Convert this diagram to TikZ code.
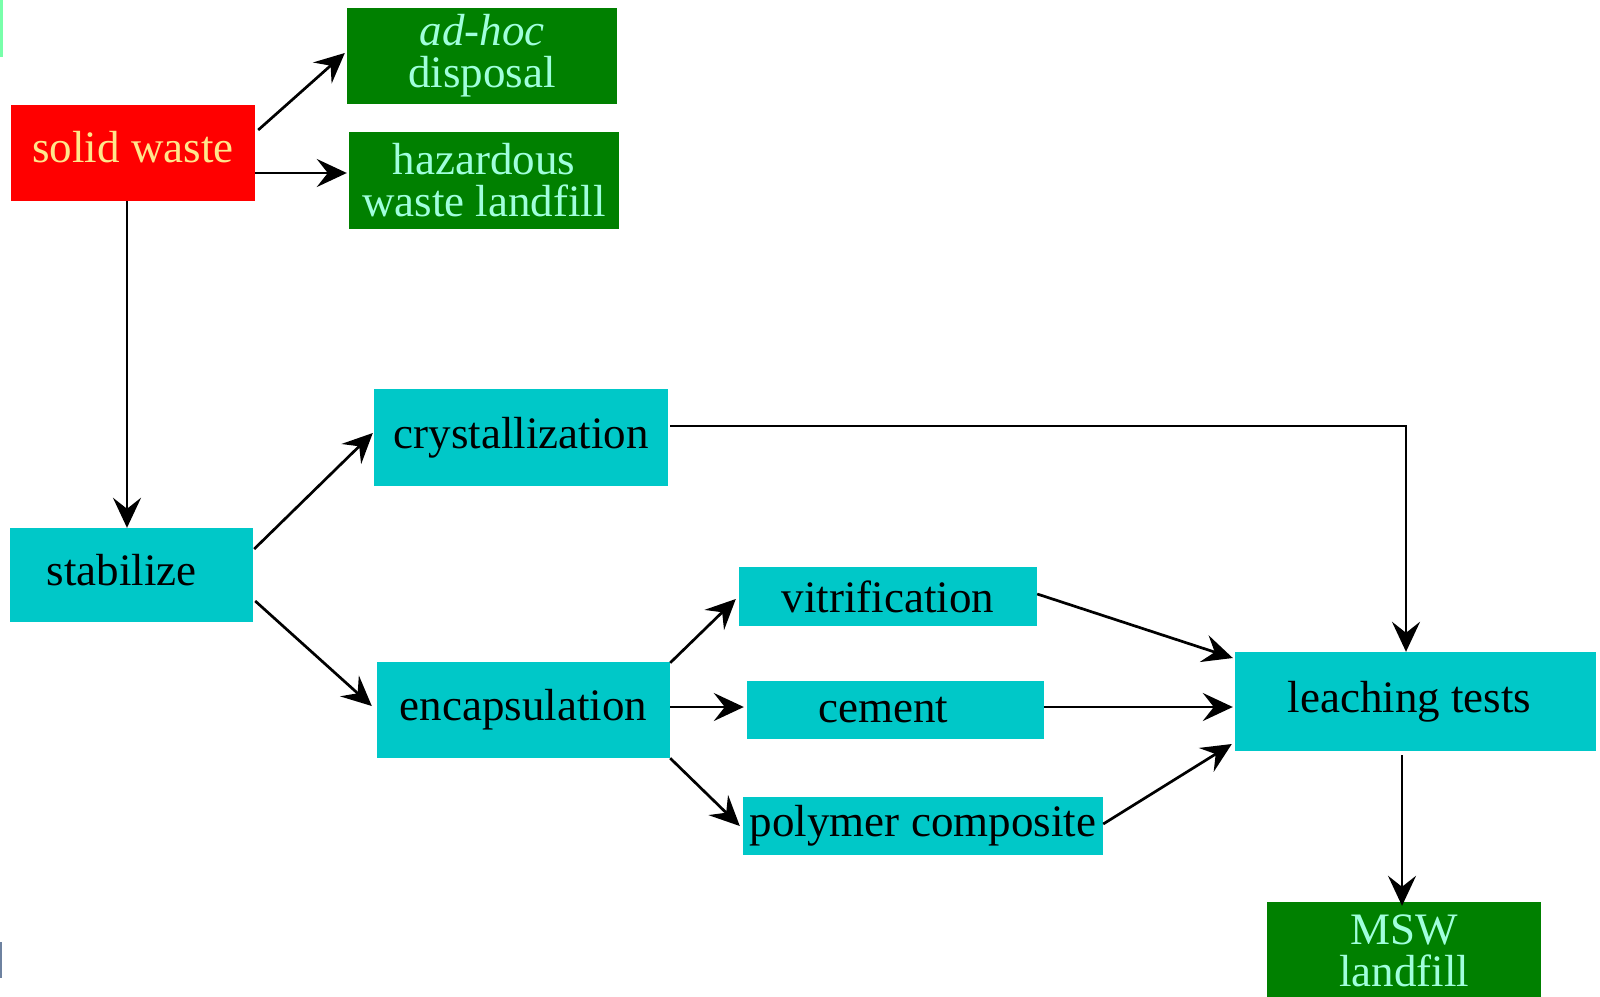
\documentclass[tikz,border=0pt]{standalone}
\usepackage{fontspec}
\setmainfont{Liberation Serif}
\usetikzlibrary{arrows.meta}
\definecolor{boxred}{RGB}{255,0,0}
\definecolor{boxcyan}{RGB}{0,200,200}
\definecolor{boxgreen}{RGB}{0,128,0}
\definecolor{minttext}{RGB}{160,255,220}
\definecolor{yellowtext}{RGB}{255,230,140}
\definecolor{edgegreen}{RGB}{120,255,170}
\definecolor{edgeblue}{RGB}{110,130,160}
\begin{document}
\begin{tikzpicture}[x=1pt,y=-1pt,
  box/.style={rectangle,inner sep=0pt,align=center,font=\fontsize{45}{42}\selectfont},
  cyanbox/.style={box,fill=boxcyan,text=black},
  greenbox/.style={box,fill=boxgreen,text=minttext},
  redbox/.style={box,fill=boxred,text=yellowtext},
  arr/.style={line width=2.7pt,-{Stealth[length=30pt,width=28pt,inset=11pt]}}]
\useasboundingbox (0,0) rectangle (1600,996);
\clip (0,0) rectangle (1600,996);
\fill[white] (0,0) rectangle (1600,996);
\fill[edgegreen] (0,0) rectangle (3,57);
\fill[edgeblue] (0,942) rectangle (2,978);

\node[redbox,minimum width=244pt,minimum height=96pt,text depth=12pt] (sw) at (133,153) {solid waste};
\node[greenbox,minimum width=270pt,minimum height=96pt] (adhoc) at (482,56) {\textit{ad-hoc}\\disposal};
\node[greenbox,minimum width=270pt,minimum height=97pt] (haz) at (484,180.5) {hazardous\\waste landfill};
\node[cyanbox,minimum width=243pt,minimum height=94pt,text depth=10pt] (stab) at (131.5,575) {stabilize\hspace*{20pt}};
\node[cyanbox,minimum width=294pt,minimum height=97pt] (crys) at (521,437.5) {crystallization};
\node[cyanbox,minimum width=293pt,minimum height=96pt] (enc) at (523.5,710) {encapsulation};
\node[cyanbox,minimum width=298pt,minimum height=59pt] (vit) at (888,596.5) {vitrification};
\node[cyanbox,minimum width=297pt,minimum height=58pt] (cem) at (895.5,710) {cement\hspace*{24pt}};
\node[cyanbox,minimum width=360pt,minimum height=58pt] (poly) at (923,826) {polymer composite};
\node[cyanbox,minimum width=361pt,minimum height=99pt] (leach) at (1415.5,701.5) {leaching tests\hspace*{12pt}};
\node[greenbox,minimum width=274pt,minimum height=98pt] (msw) at (1404,951) {MSW\\landfill};

\draw[arr] ([shift={(3,-23)}]sw.east) -- ([shift={(-2,-3)}]adhoc.west);
\draw[arr] ([shift={(0,20)}]sw.east) -- ([shift={(-2,-7.5)}]haz.west);
\draw[arr] ([xshift=-6pt]sw.south) -- ([xshift=-6pt]sw.south |- stab.north);
\draw[arr] ([shift={(1,-26)}]stab.east) -- ([shift={(-1,-4.5)}]crys.west);
\draw[arr] ([shift={(2,26)}]stab.east) -- ([shift={(-5,-4)}]enc.west);
\draw[arr] ([shift={(2,-11.5)}]crys.east) -| ([xshift=-9.5pt]leach.north);
\draw[arr] ([shift={(0,1)}]enc.north east) -- ([shift={(-3,2.5)}]vit.west);
\draw[arr] ([shift={(0,-3)}]enc.east) -- ([shift={(-3,-3)}]cem.west);
\draw[arr] (enc.south east) -- ([shift={(-3,0)}]poly.west);
\draw[arr] ([shift={(0,-2.5)}]vit.east) -- ([shift={(-2,-43.5)}]leach.west);
\draw[arr] ([shift={(0,-3)}]cem.east) -- ([shift={(-2,5.5)}]leach.west);
\draw[arr] ([shift={(0,-2)}]poly.east) -- ([shift={(-3,42.5)}]leach.west);
\draw[arr] ([shift={(-13.5,4)}]leach.south) -- ([shift={(-13.5,4)}]leach.south |- msw.north);
\end{tikzpicture}
\end{document}
